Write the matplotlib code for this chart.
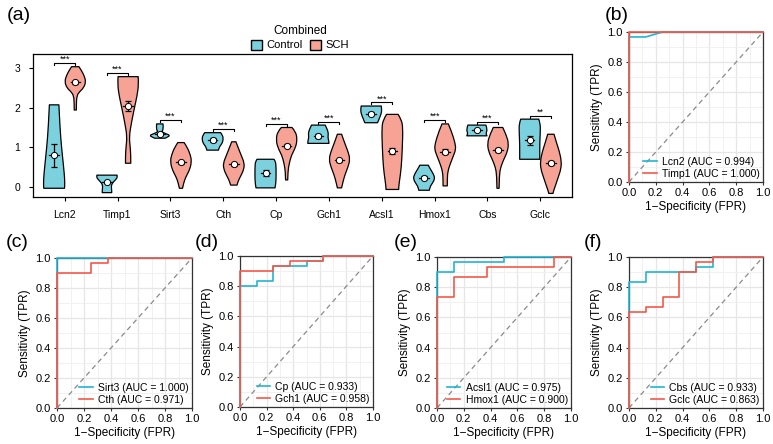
import numpy as np
import matplotlib.pyplot as plt
from matplotlib.patches import Patch, PathPatch
from matplotlib.path import Path

plt.rcParams['font.family'] = ['Liberation Sans', 'DejaVu Sans']

# ---------------- panel (a): violin data ----------------
genes = ['Lcn2', 'Timp1', 'Sirt3', 'Cth', 'Cp', 'Gch1', 'Acsl1', 'Hmox1', 'Cbs', 'Gclc']
sig = ['***', '***', '***', '***', '***', '***', '***', '***', '***', '**']

ctrl_mean = [0.80, 0.13, 1.33, 1.18, 0.35, 1.28, 1.85, 0.24, 1.44, 1.18]
ctrl_err = [0.29, 0.03, 0.03, 0.05, 0.07, 0.05, 0.03, 0.04, 0.03, 0.11]
sch_mean = [2.64, 2.04, 0.62, 0.57, 1.04, 0.67, 0.91, 0.89, 0.93, 0.60]
sch_err = [0.04, 0.12, 0.03, 0.04, 0.04, 0.04, 0.08, 0.06, 0.05, 0.05]

# violin outlines, bottom to top: (expression, relative half-width)
ctrl_shape = [
    [(-0.03, 0.98), (0.0, 1.0), (0.2, 1.0), (0.5, 0.9), (1.0, 0.7), (1.5, 0.55), (2.07, 0.45)],
    [(-0.14, 0.45), (-0.08, 0.45), (0.02, 0.4), (0.1, 0.5), (0.18, 0.8), (0.25, 1.0), (0.30, 0.95)],
    [(1.23, 0.5), (1.25, 0.65), (1.3, 1.0), (1.35, 0.5), (1.4, 0.15), (1.45, 0.35), (1.59, 0.3)],
    [(0.93, 0.55), (1.0, 0.6), (1.1, 0.9), (1.2, 1.0), (1.3, 0.95), (1.37, 0.75)],
    [(-0.02, 0.9), (0.05, 0.95), (0.2, 1.0), (0.5, 1.0), (0.65, 0.95), (0.70, 0.8)],
    [(1.10, 1.0), (1.15, 1.0), (1.25, 0.9), (1.35, 0.95), (1.45, 0.85), (1.56, 0.65)],
    [(1.62, 0.6), (1.65, 0.65), (1.75, 0.8), (1.85, 0.95), (1.95, 1.0), (2.04, 0.95)],
    [(-0.08, 0.5), (0.0, 0.55), (0.1, 0.8), (0.2, 1.0), (0.3, 0.95), (0.45, 0.6), (0.55, 0.4)],
    [(1.29, 0.95), (1.3, 0.95), (1.35, 0.85), (1.45, 1.0), (1.56, 0.85)],
    [(0.70, 0.95), (0.8, 0.95), (1.1, 0.95), (1.4, 1.0), (1.6, 1.0), (1.71, 0.85)],
]
sch_shape = [
    [(1.94, 0.1), (2.1, 0.1), (2.3, 0.15), (2.4, 0.4), (2.5, 0.8), (2.65, 1.0), (2.8, 0.85), (2.95, 0.55), (3.03, 0.35)],
    [(0.6, 0.25), (0.8, 0.25), (1.0, 0.2), (1.27, 0.1), (1.6, 0.3), (2.0, 0.6), (2.3, 0.85), (2.6, 1.0), (2.78, 0.95)],
    [(-0.03, 0.15), (0.1, 0.25), (0.25, 0.45), (0.45, 0.85), (0.65, 1.0), (0.8, 0.9), (1.0, 0.6), (1.12, 0.3)],
    [(0.05, 0.3), (0.15, 0.4), (0.3, 0.7), (0.45, 0.95), (0.6, 1.0), (0.8, 0.7), (1.0, 0.4), (1.14, 0.2)],
    [(0.18, 0.1), (0.4, 0.12), (0.6, 0.25), (0.8, 0.45), (1.0, 0.85), (1.2, 1.0), (1.4, 0.85), (1.5, 0.5)],
    [(-0.02, 0.2), (0.1, 0.3), (0.3, 0.5), (0.5, 0.8), (0.7, 1.0), (0.9, 0.8), (1.1, 0.5), (1.33, 0.2)],
    [(-0.06, 0.6), (0.0, 0.6), (0.2, 0.7), (0.5, 0.85), (1.0, 0.95), (1.5, 1.0), (1.7, 0.85), (1.83, 0.55)],
    [(0.03, 0.2), (0.2, 0.2), (0.4, 0.25), (0.6, 0.5), (0.8, 0.8), (0.95, 1.0), (1.1, 0.95), (1.4, 0.6), (1.59, 0.3)],
    [(-0.03, 0.1), (0.3, 0.12), (0.5, 0.25), (0.7, 0.55), (0.9, 0.9), (1.1, 1.0), (1.3, 0.8), (1.5, 0.45)],
    [(-0.16, 0.2), (-0.1, 0.25), (0.05, 0.45), (0.25, 0.7), (0.45, 0.95), (0.65, 1.0), (0.9, 0.8), (1.1, 0.55), (1.33, 0.3)],
]

# ---------------- ROC curves ----------------
fpr_lcn2 = [0, 0, 0.125, 0.25, 1]
tpr_lcn2 = [0, 0.967, 0.967, 1, 1]
fpr_timp1 = [0, 0, 1]
tpr_timp1 = [0, 1, 1]
fpr_sirt3 = [0, 0, 1]
tpr_sirt3 = [0, 1, 1]
fpr_cth = [0, 0, 0.25, 0.25, 0.375, 0.375, 1]
tpr_cth = [0, 0.9, 0.9, 0.967, 0.967, 1, 1]
fpr_cp = [0, 0, 0.125, 0.125, 0.25, 0.25, 0.5, 0.5, 0.625, 0.625, 1]
tpr_cp = [0, 0.8, 0.8, 0.833, 0.833, 0.933, 0.933, 0.967, 0.967, 1, 1]
fpr_gch1 = [0, 0, 0.25, 0.25, 0.375, 0.375, 0.625, 0.625, 1]
tpr_gch1 = [0, 0.9, 0.9, 0.933, 0.933, 0.967, 0.967, 1, 1]
fpr_acsl1 = [0, 0, 0.125, 0.125, 0.5, 0.5, 1]
tpr_acsl1 = [0, 0.9, 0.9, 0.967, 0.967, 1, 1]
fpr_hmox1 = [0, 0, 0.125, 0.125, 0.375, 0.375, 0.875, 0.875, 1]
tpr_hmox1 = [0, 0.733, 0.733, 0.867, 0.867, 0.933, 0.933, 1, 1]
fpr_cbs = [0, 0, 0.125, 0.125, 0.5, 0.5, 0.625, 0.625, 1]
tpr_cbs = [0, 0.833, 0.833, 0.9, 0.9, 0.933, 0.933, 1, 1]
fpr_gclc = [0, 0, 0.125, 0.125, 0.25, 0.25, 0.375, 0.375, 0.5, 0.5, 0.625, 0.625, 1]
tpr_gclc = [0, 0.633, 0.633, 0.667, 0.667, 0.733, 0.733, 0.9, 0.9, 0.967, 0.967, 1, 1]

roc_panels = [
    ('(b)', ('Lcn2', fpr_lcn2, tpr_lcn2, 0.994), ('Timp1', fpr_timp1, tpr_timp1, 1.000)),
    ('(c)', ('Sirt3', fpr_sirt3, tpr_sirt3, 1.000), ('Cth', fpr_cth, tpr_cth, 0.971)),
    ('(d)', ('Cp', fpr_cp, tpr_cp, 0.933), ('Gch1', fpr_gch1, tpr_gch1, 0.958)),
    ('(e)', ('Acsl1', fpr_acsl1, tpr_acsl1, 0.975), ('Hmox1', fpr_hmox1, tpr_hmox1, 0.900)),
    ('(f)', ('Cbs', fpr_cbs, tpr_cbs, 0.933), ('Gclc', fpr_gclc, tpr_gclc, 0.863)),
]

c_ctrl = '#7BD2DE'
c_sch = '#F6A395'
c_roc1 = '#22B4D2'
c_roc2 = '#F4594A'

W, H = 773, 444
fig = plt.figure(figsize=(W / 100, H / 100), dpi=100)


def rect(l, r, t, b):
    return [l / W, 1 - b / H, (r - l) / W, (b - t) / H]


def smooth_side(pts):
    # quadratic bezier through midpoints of the outline knots
    verts = [pts[0]]
    codes = []
    for k in range(1, len(pts) - 1):
        mid = ((pts[k][0] + pts[k + 1][0]) / 2, (pts[k][1] + pts[k + 1][1]) / 2)
        if k == len(pts) - 2:
            mid = pts[-1]
        verts += [pts[k], mid]
        codes += [Path.CURVE3, Path.CURVE3]
    return verts, codes


def violin(ax, xpos, shape, col):
    ys = [p[0] for p in shape]
    ws = [p[1] * 0.2 for p in shape]
    right = [(xpos + w, y) for y, w in zip(ys, ws)]
    left = [(xpos - w, y) for y, w in zip(ys, ws)][::-1]
    vr, cr = smooth_side(right)
    vl, cl = smooth_side(left)
    verts = vr + vl + [vr[0]]
    codes = [Path.MOVETO] + cr + [Path.LINETO] + cl + [Path.CLOSEPOLY]
    ax.add_patch(PathPatch(Path(verts, codes), facecolor=col, edgecolor='black',
                           lw=0.9, joinstyle='round', zorder=2))


# ---------------- draw panel (a) ----------------
ax = fig.add_axes(rect(33, 572, 54, 197))
for i, g in enumerate(genes):
    xc = i + 1
    for xpos, shape, m, e, col in [(xc - 0.2, ctrl_shape[i], ctrl_mean[i], ctrl_err[i], c_ctrl),
                                   (xc + 0.2, sch_shape[i], sch_mean[i], sch_err[i], c_sch)]:
        violin(ax, xpos, shape, col)
        ax.errorbar(xpos, m, yerr=e, fmt='none', ecolor='black', capsize=2.2, elinewidth=0.9,
                    capthick=0.9, zorder=3)
        ax.plot([xpos - 0.09, xpos + 0.09], [m, m], color='black', lw=0.9, zorder=3)
        ax.plot(xpos, m, marker='o', ms=4.5, mfc='white', mec='black', mew=0.7, zorder=4)
    top = max(ctrl_shape[i][-1][0], sch_shape[i][-1][0]) + 0.09
    ax.plot([xc - 0.2, xc - 0.2, xc + 0.2, xc + 0.2], [top - 0.05, top, top, top - 0.05],
            color='black', lw=0.8)
    ax.text(xc, top - 0.02, sig[i], ha='center', va='bottom', fontsize=6.5)

ax.set_xlim(0.4, 10.6)
ax.set_ylim(-0.25, 3.35)
ax.set_xticks(range(1, len(genes) + 1))
ax.set_xticklabels(genes)
ax.set_yticks([0, 1, 2, 3])
ax.tick_params(labelsize=7.5, length=3, width=0.8, pad=6)
for s in ax.spines.values():
    s.set_linewidth(0.9)

fig.legend(handles=[Patch(facecolor=c_ctrl, edgecolor='black', label='Control'),
                    Patch(facecolor=c_sch, edgecolor='black', label='SCH')],
           title='Combined', ncol=2, loc='center', bbox_to_anchor=(300 / W, 1 - 38 / H),
           frameon=False, fontsize=8, title_fontsize=8.5, handlelength=1.0, handleheight=1.0,
           columnspacing=0.6, handletextpad=0.4, borderpad=0.1, labelspacing=0.2)

# ---------------- ROC panels ----------------
roc_rects = [rect(629, 763, 32, 182), rect(57, 192, 258, 408), rect(240, 373, 256, 407),
             rect(437, 571, 257, 408), rect(629, 763, 257, 408)]
label_pos = [(617, 16), (17, 242), (207, 242), (406, 242), (593, 242)]

for (lab, g1, g2), r, lp in zip(roc_panels, roc_rects, label_pos):
    a = fig.add_axes(r)
    a.set_xlim(0, 1)
    a.set_ylim(0, 1)
    a.set_xticks(np.arange(0, 1.01, 0.2))
    a.set_yticks(np.arange(0, 1.01, 0.2))
    a.set_xticks(np.arange(0.1, 1.0, 0.2), minor=True)
    a.set_yticks(np.arange(0.1, 1.0, 0.2), minor=True)
    a.grid(which='major', color='#E6E6E6', lw=0.9)
    a.grid(which='minor', color='#EFEFEF', lw=0.6)
    a.set_axisbelow(True)
    a.plot([0, 1], [0, 1], color='#8A8A8A', lw=0.9, dashes=(4, 3))
    for (name, f, t, auc), col in [(g1, c_roc1), (g2, c_roc2)]:
        a.plot(f, t, color=col, lw=1.2, clip_on=False, zorder=3,
               label=f'{name} (AUC = {auc:.3f})')
    a.set_xticklabels([f'{v:.1f}' for v in np.arange(0, 1.01, 0.2)])
    a.set_yticklabels([f'{v:.1f}' for v in np.arange(0, 1.01, 0.2)])
    a.tick_params(which='major', labelsize=8, length=2.5, width=0.8, color='#333333', pad=2)
    a.tick_params(which='minor', length=0)
    for s in a.spines.values():
        s.set_color('#333333')
        s.set_linewidth(0.9)
    a.set_xlabel('1\u2212Specificity (FPR)', fontsize=8.5, labelpad=2)
    a.set_ylabel('Sensitivity (TPR)', fontsize=8.5, labelpad=3)
    a.legend(loc='lower right', frameon=False, fontsize=7.5, handlelength=1.3,
             handletextpad=0.5, labelspacing=0.2, borderaxespad=0.2, borderpad=0.1)
    fig.text(lp[0] / W, 1 - lp[1] / H, lab, fontsize=14, ha='center', va='center')

fig.text(19 / W, 1 - 16 / H, '(a)', fontsize=14, ha='center', va='center')

fig.savefig('out.png', dpi=100)
